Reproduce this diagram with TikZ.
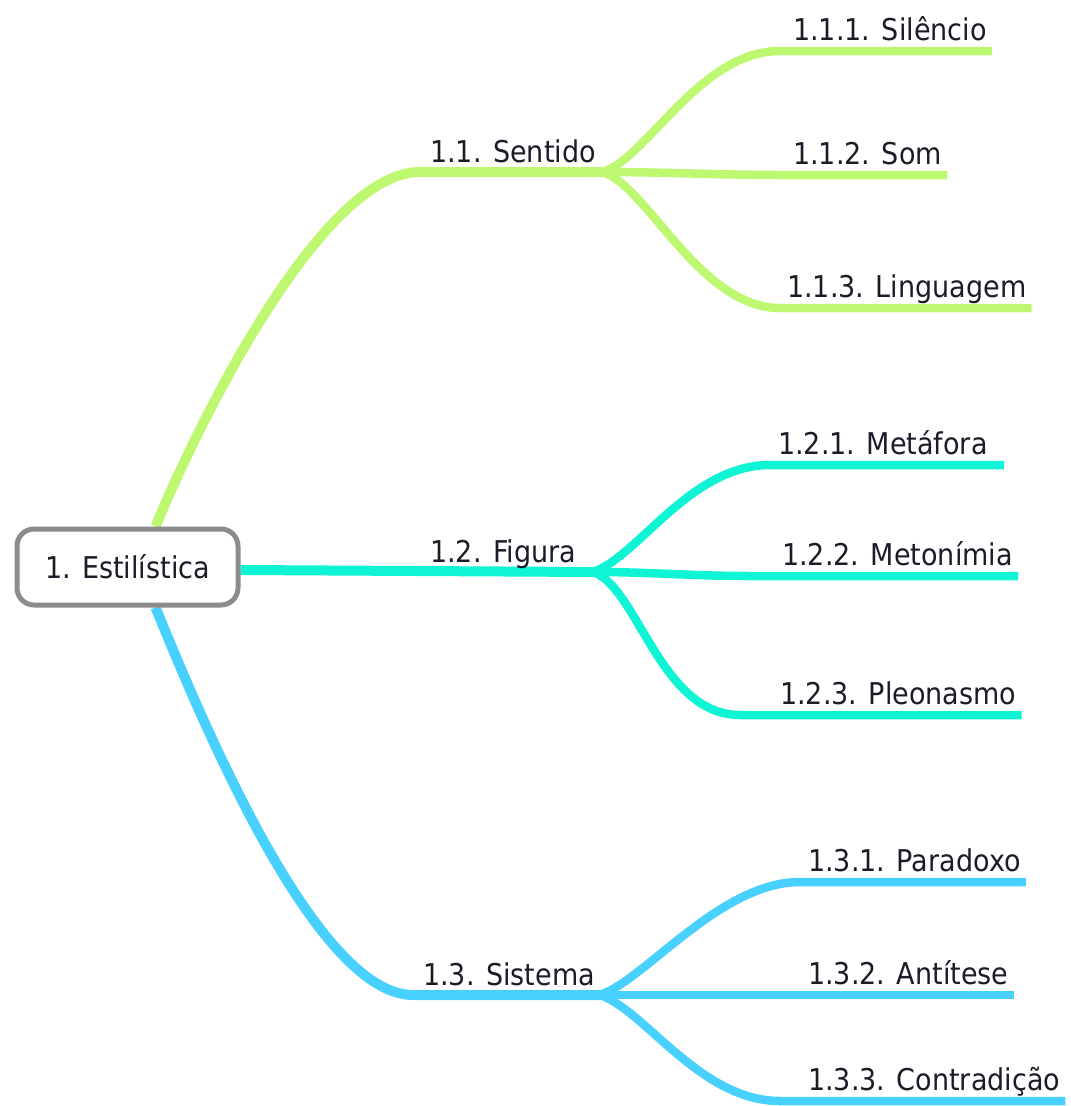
\documentclass[tikz,border=0pt]{standalone}
\usepackage{fontspec}
\setmainfont{DejaVu Sans}[FakeStretch=0.9]
\usetikzlibrary{backgrounds}
\definecolor{sentidoc}{RGB}{190,248,112}
\definecolor{figurac}{RGB}{16,244,214}
\definecolor{sistemac}{RGB}{72,208,255}
\definecolor{textc}{RGB}{28,28,40}

\begin{document}
\begin{tikzpicture}[x=1pt, y=-1pt,
	every node/.style={font=\fontsize{30}{36}\selectfont, text=textc},
	root/.style={draw=black!45, line width=5pt, rounded corners=17pt, fill=white, minimum width=221pt, minimum height=76pt},
	topic/.style={anchor=south west, inner xsep=0pt, inner ysep=9.5pt, text depth=0pt},
	subtopic/.style={anchor=south west, inner xsep=0pt, inner ysep=10pt, text depth=0pt},
	trunk/.style={line width=10pt},
	twig/.style={line width=8.5pt}]
		\useasboundingbox (0,0) rectangle (1071,1106);

		\node[root] (estilistica) at (127.5,567) {1. Estilística};
		\node[topic] (sentido) at (430,172) {1.1. Sentido};
		\node[topic] (figura) at (430,572) {1.2. Figura};
		\node[topic] (sistema) at (423,995) {1.3. Sistema};
		\node[subtopic] (silencio) at (793,51) {1.1.1. Silêncio};
		\node[subtopic] (som) at (793,175) {1.1.2. Som};
		\node[subtopic] (linguagem) at (787,308) {1.1.3. Linguagem};
		\node[subtopic] (metafora) at (778,465) {1.2.1. Metáfora};
		\node[subtopic] (metonimia) at (782,576) {1.2.2. Metonímia};
		\node[subtopic] (pleonasmo) at (780,715) {1.2.3. Pleonasmo};
		\node[subtopic] (paradoxo) at (808,882) {1.3.1. Paradoxo};
		\node[subtopic] (antitese) at (808,995) {1.3.2. Antítese};
		\node[subtopic] (contradicao) at (808,1101) {1.3.3. Contradição};

		\coordinate (j1) at (603,172);
		\coordinate (j2) at (593,572);
		\coordinate (j3) at (600,995);

		\begin{scope}[on background layer]
		\draw[trunk, sentidoc] ([xshift=28pt]estilistica.north) .. controls +(40,-97) and +(-100,0) .. ([xshift=-10pt]sentido.south west) -- (j1);
		\draw[trunk, figurac] ([yshift=-3pt]estilistica.east) -- (j2);
		\draw[trunk, sistemac] ([xshift=28pt]estilistica.south) .. controls +(40,97) and +(-100,0) .. ([xshift=-10pt]sistema.south west) -- (j3);

		\draw[twig, sentidoc] (j1) .. controls +(45,-15) and +(-80,0) .. ([xshift=-13pt]silencio.south west) -- ([xshift=5pt]silencio.south east);
		\draw[twig, sentidoc] (j1) .. controls +(60,0) and +(-60,0) .. ([xshift=-13pt]som.south west) -- ([xshift=5pt]som.south east);
		\draw[twig, sentidoc] (j1) .. controls +(45,15) and +(-80,0) .. ([xshift=-7pt]linguagem.south west) -- ([xshift=5pt]linguagem.south east);

		\draw[twig, figurac] (j2) .. controls +(45,-15) and +(-80,0) .. ([xshift=-8pt]metafora.south west) -- ([xshift=16pt]metafora.south east);
		\draw[twig, figurac] (j2) .. controls +(60,0) and +(-60,0) .. ([xshift=-32pt]metonimia.south west) -- ([xshift=5pt]metonimia.south east);
		\draw[twig, figurac] (j2) .. controls +(45,15) and +(-80,0) .. ([xshift=-40pt]pleonasmo.south west) -- ([xshift=5pt]pleonasmo.south east);

		\draw[twig, sistemac] (j3) .. controls +(45,-15) and +(-80,0) .. ([xshift=-8pt]paradoxo.south west) -- ([xshift=5pt]paradoxo.south east);
		\draw[twig, sistemac] (j3) .. controls +(60,0) and +(-60,0) .. ([xshift=-8pt]antitese.south west) -- ([xshift=5pt]antitese.south east);
		\draw[twig, sistemac] (j3) .. controls +(45,15) and +(-80,0) .. ([xshift=-28pt]contradicao.south west) -- ([xshift=5pt]contradicao.south east);
		\end{scope}

	\end{tikzpicture}
\end{document}
